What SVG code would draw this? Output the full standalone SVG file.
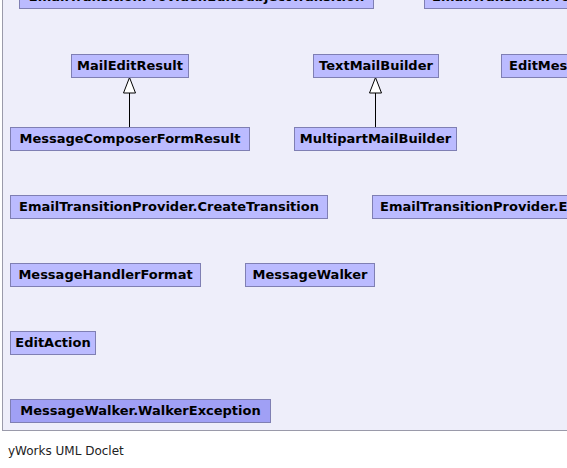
<svg xmlns="http://www.w3.org/2000/svg" width="567" height="468" viewBox="0 0 567 468">
<style>
.box{fill:#BBBBFF;stroke:#7F7FB3;stroke-width:1}
.exc{fill:#A0A0F5;stroke:#7F7FB3;stroke-width:1}
.lbl{font-family:"DejaVu Sans",sans-serif;font-weight:bold;font-size:13px;fill:#000}
.edge{stroke:#000;stroke-width:1;fill:none}
.head{fill:#fff;stroke:#000;stroke-width:1}
</style>
<rect x="0" y="0" width="567" height="468" fill="#fff"/>
<rect x="2.5" y="-5" width="600" height="435.5" fill="#EEEEFA" stroke="#9A9AAA" stroke-width="1"/>
<g id="connectors">
<line class="edge" x1="129.5" y1="127" x2="129.5" y2="93"/>
<polygon class="head" points="129.5,77.5 123.5,93 135.5,93"/>
<line class="edge" x1="375.5" y1="127" x2="375.5" y2="93"/>
<polygon class="head" points="375.5,77.5 369.5,93 381.5,93"/>
</g>
<g id="n_editsubject"><rect class="box" x="19.5" y="-14.5" width="354" height="23"/><text class="lbl" x="196.5" y="1" text-anchor="middle">EmailTransitionProvider.EditSubjectTransition</text></g>
<g id="n_topright"><rect class="box" x="424.5" y="-14.5" width="200" height="23"/><text class="lbl" x="432" y="1">EmailTransitionProvider</text></g>
<g id="n_maileditresult"><rect class="box" x="71.5" y="54.5" width="117" height="23"/><text class="lbl" x="130" y="69.5" text-anchor="middle">MailEditResult</text></g>
<g id="n_textmailbuilder"><rect class="box" x="313.5" y="54.5" width="125" height="23"/><text class="lbl" x="376" y="69.5" text-anchor="middle">TextMailBuilder</text></g>
<g id="n_editmes"><rect class="box" x="501.5" y="54.5" width="120" height="23"/><text class="lbl" x="509" y="69.5">EditMessage</text></g>
<g id="n_composerformresult"><rect class="box" x="10.5" y="127.5" width="239" height="23"/><text class="lbl" x="130" y="142.5" text-anchor="middle">MessageComposerFormResult</text></g>
<g id="n_multipart"><rect class="box" x="294.5" y="127.5" width="162" height="23"/><text class="lbl" x="375.5" y="142.5" text-anchor="middle">MultipartMailBuilder</text></g>
<g id="n_create"><rect class="box" x="10.5" y="195.5" width="317" height="23"/><text class="lbl" x="169" y="210.5" text-anchor="middle">EmailTransitionProvider.CreateTransition</text></g>
<g id="n_etp_e"><rect class="box" x="372.5" y="195.5" width="240" height="23"/><text class="lbl" x="380" y="210.5">EmailTransitionProvider.E</text></g>
<g id="n_handlerformat"><rect class="box" x="10.5" y="263.5" width="190" height="23"/><text class="lbl" x="105.5" y="278.5" text-anchor="middle">MessageHandlerFormat</text></g>
<g id="n_walker"><rect class="box" x="245.5" y="263.5" width="129" height="23"/><text class="lbl" x="310" y="278.5" text-anchor="middle">MessageWalker</text></g>
<g id="n_editaction"><rect class="box" x="10.5" y="331.5" width="85" height="23"/><text class="lbl" x="53" y="346.5" text-anchor="middle">EditAction</text></g>
<g id="n_walkerexception"><rect class="exc" x="10.5" y="399.5" width="260" height="23"/><text class="lbl" x="140.5" y="414.5" text-anchor="middle">MessageWalker.WalkerException</text></g>
<text x="8" y="455" font-family="DejaVu Sans, sans-serif" font-size="12" fill="#222">yWorks UML Doclet</text>
</svg>
